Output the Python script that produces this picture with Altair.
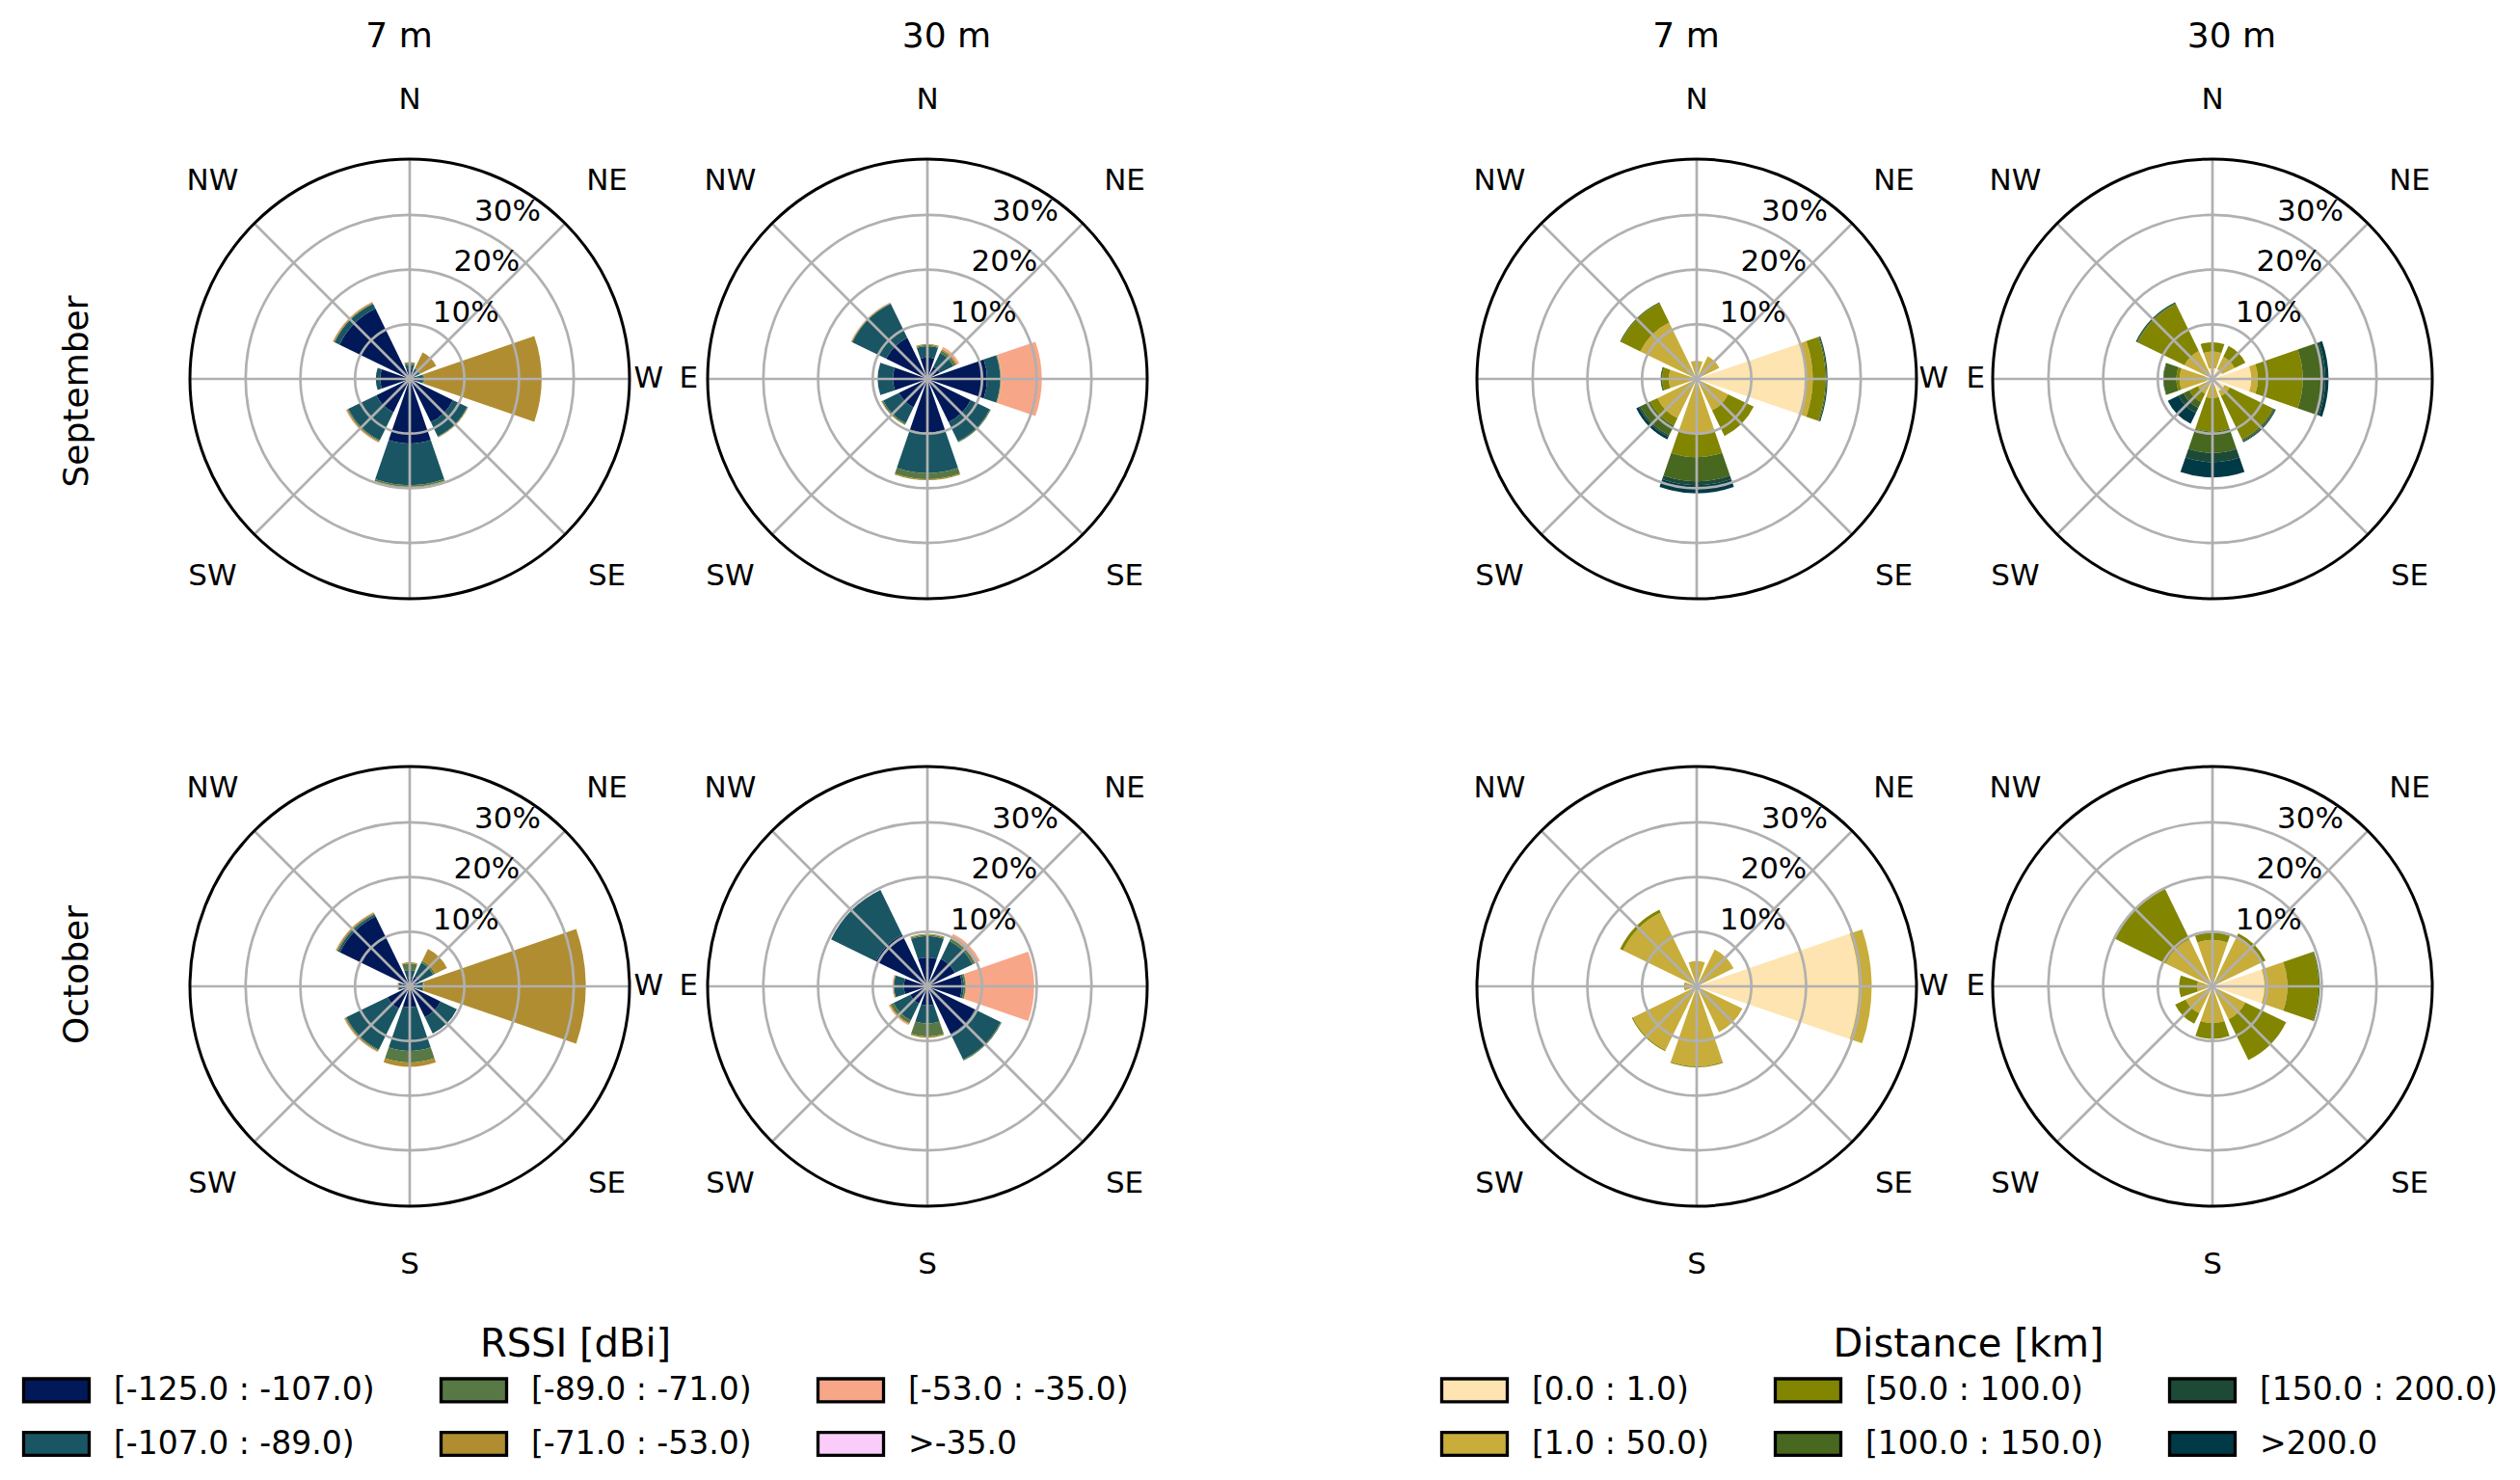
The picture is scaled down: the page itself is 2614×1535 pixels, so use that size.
import math
import altair as alt
import pandas as pd

# ---------------- data (percent of observations per direction and class) ----------------
DIRECTIONS = ["N", "NE", "E", "SE", "S", "SW", "W", "NW"]
DIR_ANGLES = [0, 45, 90, 135, 180, 225, 270, 315]

RSSI_BINS = ["[-125.0 : -107.0)", "[-107.0 : -89.0)", "[-89.0 : -71.0)",
             "[-71.0 : -53.0)", "[-53.0 : -35.0)", ">-35.0"]
RSSI_COLORS = ["#011959", "#1a5563", "#587845", "#b08d31", "#f8a688", "#f9ccf9"]

DIST_BINS = ["[0.0 : 1.0)", "[1.0 : 50.0)", "[50.0 : 100.0)",
             "[100.0 : 150.0)", "[150.0 : 200.0)", ">200.0"]
DIST_COLORS = ["#fee4b0", "#c8ad3b", "#828500", "#48671f", "#1d4a36", "#013a47"]

# rows: N, NE, E, SE, S, SW, W, NW ; columns: the six classes
RSSI_SEP_7M = [
    [1.8, 0.8, 0.3, 0.2, 0.0, 0.0],
    [0.8, 1.2, 0.2, 3.2, 0.0, 0.0],
    [1.4, 1.1, 0.2, 21.4, 0.0, 0.0],
    [8.8, 2.9, 0.1, 0.1, 0.0, 0.0],
    [11.8, 7.6, 0.3, 0.3, 0.1, 0.0],
    [6.8, 5.7, 0.2, 0.2, 0.1, 0.0],
    [5.4, 0.8, 0.0, 0.0, 0.0, 0.0],
    [14.3, 1.0, 0.1, 0.2, 0.1, 0.0],
]
RSSI_SEP_30M = [
    [3.9, 2.1, 0.2, 0.2, 0.0, 0.0],
    [2.5, 2.8, 0.5, 0.3, 0.4, 0.0],
    [10.9, 2.4, 0.1, 0.1, 7.4, 0.0],
    [8.8, 3.9, 0.2, 0.0, 0.0, 0.0],
    [9.8, 7.4, 1.1, 0.2, 0.0, 0.0],
    [5.8, 3.2, 0.3, 0.1, 0.0, 0.0],
    [6.3, 2.8, 0.0, 0.0, 0.0, 0.0],
    [8.4, 6.9, 0.1, 0.1, 0.1, 0.0],
]
RSSI_OCT_7M = [
    [1.5, 1.5, 1.2, 0.2, 0.0, 0.0],
    [2.0, 2.8, 0.4, 2.4, 0.0, 0.0],
    [1.2, 1.2, 0.2, 29.6, 0.0, 0.0],
    [6.3, 3.3, 0.0, 0.0, 0.0, 0.0],
    [3.8, 8.0, 2.1, 0.8, 0.0, 0.0],
    [4.5, 8.4, 0.2, 0.2, 0.1, 0.0],
    [1.4, 0.6, 0.1, 0.1, 0.1, 0.0],
    [14.2, 0.4, 0.2, 0.2, 0.1, 0.0],
]
RSSI_OCT_30M = [
    [5.3, 3.9, 0.2, 0.2, 0.0, 0.0],
    [5.6, 3.6, 0.5, 0.1, 0.9, 0.0],
    [6.3, 0.4, 0.3, 0.1, 12.4, 0.0],
    [9.7, 5.2, 0.2, 0.0, 0.0, 0.0],
    [3.5, 3.3, 2.4, 0.2, 0.0, 0.0],
    [3.5, 3.4, 0.6, 0.2, 0.2, 0.0],
    [4.3, 1.8, 0.1, 0.1, 0.1, 0.0],
    [10.5, 9.1, 0.0, 0.0, 0.0, 0.0],
]
DIST_SEP_7M = [
    [0.3, 3.0, 0.0, 0.0, 0.0, 0.0],
    [0.6, 4.0, 0.0, 0.0, 0.0, 0.0],
    [19.8, 1.4, 2.3, 0.2, 0.2, 0.0],
    [1.0, 5.4, 5.2, 0.0, 0.0, 0.0],
    [0.4, 9.5, 4.4, 4.4, 0.7, 1.5],
    [0.5, 7.5, 1.5, 2.0, 0.3, 0.5],
    [0.5, 4.6, 1.2, 0.3, 0.0, 0.0],
    [0.5, 11.0, 3.9, 0.2, 0.0, 0.0],
]
DIST_SEP_30M = [
    [2.0, 3.0, 1.7, 0.0, 0.0, 0.0],
    [2.0, 2.5, 2.2, 0.0, 0.0, 0.0],
    [7.1, 1.2, 8.2, 3.5, 0.6, 0.6],
    [2.5, 1.0, 8.8, 0.3, 0.2, 0.1],
    [1.0, 2.5, 6.1, 3.9, 1.7, 2.8],
    [0.5, 2.5, 1.7, 1.2, 1.0, 2.2],
    [1.0, 5.0, 0.6, 2.3, 0.1, 0.0],
    [1.0, 4.7, 9.5, 0.2, 0.2, 0.0],
]
DIST_OCT_7M = [
    [0.3, 4.3, 0.0, 0.0, 0.0, 0.0],
    [0.5, 7.0, 0.0, 0.0, 0.0, 0.0],
    [29.6, 2.4, 0.0, 0.0, 0.0, 0.0],
    [1.0, 8.3, 0.0, 0.0, 0.0, 0.0],
    [0.5, 14.1, 0.2, 0.0, 0.0, 0.0],
    [0.5, 12.5, 0.2, 0.0, 0.0, 0.0],
    [0.3, 1.8, 0.2, 0.0, 0.0, 0.0],
    [0.4, 14.6, 0.6, 0.0, 0.0, 0.0],
]
DIST_OCT_30M = [
    [0.5, 8.0, 1.3, 0.0, 0.0, 0.0],
    [0.5, 9.5, 0.8, 0.0, 0.0, 0.0],
    [9.5, 4.2, 5.7, 0.2, 0.0, 0.0],
    [1.0, 5.7, 8.3, 0.0, 0.0, 0.0],
    [0.5, 6.2, 2.9, 0.0, 0.0, 0.0],
    [0.4, 5.1, 2.1, 0.0, 0.0, 0.0],
    [0.3, 2.5, 3.3, 0.0, 0.0, 0.0],
    [0.5, 9.1, 10.2, 0.0, 0.0, 0.0],
]

MONTHS = ["September", "October"]
HEIGHTS = ["7 m", "30 m"]
RING_VALUES = [10, 20, 30]
RING_LABELS = ["10%", "20%", "30%"]

PANELS = [
    ("RSSI", "September", "7 m", RSSI_SEP_7M),
    ("RSSI", "September", "30 m", RSSI_SEP_30M),
    ("RSSI", "October", "7 m", RSSI_OCT_7M),
    ("RSSI", "October", "30 m", RSSI_OCT_30M),
    ("Distance", "September", "7 m", DIST_SEP_7M),
    ("Distance", "September", "30 m", DIST_SEP_30M),
    ("Distance", "October", "7 m", DIST_OCT_7M),
    ("Distance", "October", "30 m", DIST_OCT_30M),
]

# ---------------- layout ----------------
W, H = 2598, 1519
PANEL_X = {("RSSI", "7 m"): 417, ("RSSI", "30 m"): 954,
           ("Distance", "7 m"): 1752, ("Distance", "30 m"): 2287}
ROW_Y = {"September": 385, "October": 1015}
RMAX = 40.2          # outer circle, in percent
R_PX = 228           # outer circle radius in px
HALF = 19            # half opening of each bar, degrees
LABEL_R = 51         # compass label radius, in percent units
TITLE_SHIFT = {"7 m": -11, "30 m": 20}
FONT = "DejaVu Sans"

xs = alt.Scale(domain=[0, W], nice=False, zero=False)
ys = alt.Scale(domain=[0, H], nice=False, zero=False, reverse=True)
ts = alt.Scale(domain=[0, 360], range=[0, 2 * math.pi], nice=False, zero=False)
rs = alt.Scale(type="linear", domain=[0, RMAX], range=[0, R_PX], nice=False, zero=True)

# ---------------- tables ----------------
bar_rows = []
for grp, month, hgt, values in PANELS:
    bins = RSSI_BINS if grp == "RSSI" else DIST_BINS
    cx, cy = PANEL_X[(grp, hgt)], ROW_Y[month]
    for d, ang, stack in zip(DIRECTIONS, DIR_ANGLES, values):
        base = 0.0
        for b, v in zip(bins, stack):
            if v <= 0:
                continue
            bar_rows.append(dict(group=grp, month=month, height=hgt, direction=d, bin=b,
                                 value=v, r0=base, r1=base + v,
                                 t0=ang - HALF, t1=ang + HALF, cx=cx, cy=cy))
            base += v
bars = pd.DataFrame(bar_rows)

panel_rows = []
for grp, month, hgt, _ in PANELS:
    panel_rows.append(dict(group=grp, month=month, height=hgt,
                           cx=PANEL_X[(grp, hgt)], cy=ROW_Y[month]))
panels = pd.DataFrame(panel_rows)

rings = panels.merge(pd.DataFrame({"r": RING_VALUES, "lab": RING_LABELS}), how="cross")
rings["t0"] = 0
rings["t1"] = 360
rings["tl"] = 22.5

spokes = panels.merge(pd.DataFrame({"t": DIR_ANGLES}), how="cross")
spokes["r"] = RMAX

outer = panels.copy()
outer["t0"] = 0
outer["t1"] = 360
outer["r"] = RMAX

comp_rows = []
for _, p in panels.iterrows():
    for d, ang in zip(DIRECTIONS, DIR_ANGLES):
        if d == "N" and p["month"] != "September":
            continue
        if d == "S" and p["month"] != "October":
            continue
        if d == "W" and p["height"] == "7 m":
            continue
        if d == "E" and p["height"] == "30 m":
            continue
        comp_rows.append(dict(cx=p["cx"], cy=p["cy"], t=ang, r=LABEL_R, lab=d))
compass = pd.DataFrame(comp_rows)

col_titles = pd.DataFrame([dict(x=PANEL_X[(g, h)] + TITLE_SHIFT[h], y=30, lab=h)
                           for g in ["RSSI", "Distance"] for h in HEIGHTS])
row_titles = pd.DataFrame([dict(x=72, y=398, lab=MONTHS[0]), dict(x=72, y=1003, lab=MONTHS[1])])

# ---------------- layers ----------------
ORDER = [0, 2, 4, 1, 3, 5]   # column-major legend order for 3 columns x 2 rows
# rectangle swatch 68 x 24 px: path unit = sqrt(size)/2 = 13.6 px
SYMBOL = "M-2.5,-0.88H2.5V0.88H-2.5Z"
SYM_SIZE = 740


def legend(title, lx, ly):
    return alt.Legend(
        title=title, orient="none", legendX=lx, legendY=ly, direction="horizontal",
        columns=3, columnPadding=61, rowPadding=17, symbolType=SYMBOL, symbolSize=SYM_SIZE,
        symbolStrokeColor="black", symbolStrokeWidth=3.3, symbolOpacity=1, symbolOffset=19,
        labelFont=FONT, labelFontSize=33, labelColor="black", labelOffset=43, labelLimit=600,
        titleFont=FONT, titleFontSize=40, titleFontWeight="normal", titleColor="black",
        titleAnchor="middle", titlePadding=10, titleLimit=800)


def bar_layer(grp, bins, colors, lx, ly, title):
    return alt.Chart(bars[bars["group"] == grp]).mark_arc().encode(
        x=alt.X("cx:Q", scale=xs, axis=None),
        y=alt.Y("cy:Q", scale=ys, axis=None),
        theta=alt.Theta("t0:Q", scale=ts, stack=False),
        theta2="t1:Q",
        radius=alt.Radius("r1:Q", scale=rs, stack=False),
        radius2="r0:Q",
        color=alt.Color("bin:N",
                        scale=alt.Scale(domain=[bins[i] for i in ORDER],
                                        range=[colors[i] for i in ORDER]),
                        legend=legend(title, lx, ly)),
    )


rssi_layer = bar_layer("RSSI", RSSI_BINS, RSSI_COLORS, 15, 1367, "RSSI [dBi]")
dist_layer = bar_layer("Distance", DIST_BINS, DIST_COLORS, 1486, 1367, "Distance [km]")

ring_layer = alt.Chart(rings).mark_arc(filled=False, stroke="#b0b0b0", strokeWidth=2.7).encode(
    x=alt.X("cx:Q", scale=xs, axis=None),
    y=alt.Y("cy:Q", scale=ys, axis=None),
    theta=alt.Theta("t0:Q", scale=ts, stack=False),
    theta2="t1:Q",
    radius=alt.Radius("r:Q", scale=rs, stack=False),
)

spoke_layer = alt.Chart(spokes).mark_arc(filled=False, stroke="#b0b0b0", strokeWidth=2.7).encode(
    x=alt.X("cx:Q", scale=xs, axis=None),
    y=alt.Y("cy:Q", scale=ys, axis=None),
    theta=alt.Theta("t:Q", scale=ts, stack=False),
    theta2="t:Q",
    radius=alt.Radius("r:Q", scale=rs, stack=False),
)

outer_layer = alt.Chart(outer).mark_arc(filled=False, stroke="black", strokeWidth=3).encode(
    x=alt.X("cx:Q", scale=xs, axis=None),
    y=alt.Y("cy:Q", scale=ys, axis=None),
    theta=alt.Theta("t0:Q", scale=ts, stack=False),
    theta2="t1:Q",
    radius=alt.Radius("r:Q", scale=rs, stack=False),
)

ring_text = alt.Chart(rings).mark_text(
    align="left", baseline="bottom", dx=2, font=FONT, fontSize=31, color="black").encode(
    x=alt.X("cx:Q", scale=xs, axis=None),
    y=alt.Y("cy:Q", scale=ys, axis=None),
    theta=alt.Theta("tl:Q", scale=ts, stack=False),
    radius=alt.Radius("r:Q", scale=rs, stack=False),
    text="lab:N",
)

compass_text = alt.Chart(compass).mark_text(
    align="center", baseline="middle", font=FONT, fontSize=31, color="black").encode(
    x=alt.X("cx:Q", scale=xs, axis=None),
    y=alt.Y("cy:Q", scale=ys, axis=None),
    theta=alt.Theta("t:Q", scale=ts, stack=False),
    radius=alt.Radius("r:Q", scale=rs, stack=False),
    text="lab:N",
)

col_text = alt.Chart(col_titles).mark_text(
    align="center", baseline="middle", font=FONT, fontSize=36, color="black").encode(
    x=alt.X("x:Q", scale=xs, axis=None),
    y=alt.Y("y:Q", scale=ys, axis=None),
    text="lab:N",
)

row_text = alt.Chart(row_titles).mark_text(
    align="center", baseline="middle", angle=270, font=FONT, fontSize=36, color="black").encode(
    x=alt.X("x:Q", scale=xs, axis=None),
    y=alt.Y("y:Q", scale=ys, axis=None),
    text="lab:N",
)

chart = alt.layer(
    rssi_layer, dist_layer, ring_layer, spoke_layer, outer_layer,
    ring_text, compass_text, col_text, row_text,
).resolve_scale(color="independent").properties(
    width=W, height=H, padding=0, autosize=alt.AutoSizeParams(type="none"),
).configure(font=FONT).configure_view(strokeWidth=0, stroke=None)

chart.save("out.html", embed_options={"renderer": "svg", "actions": False})
